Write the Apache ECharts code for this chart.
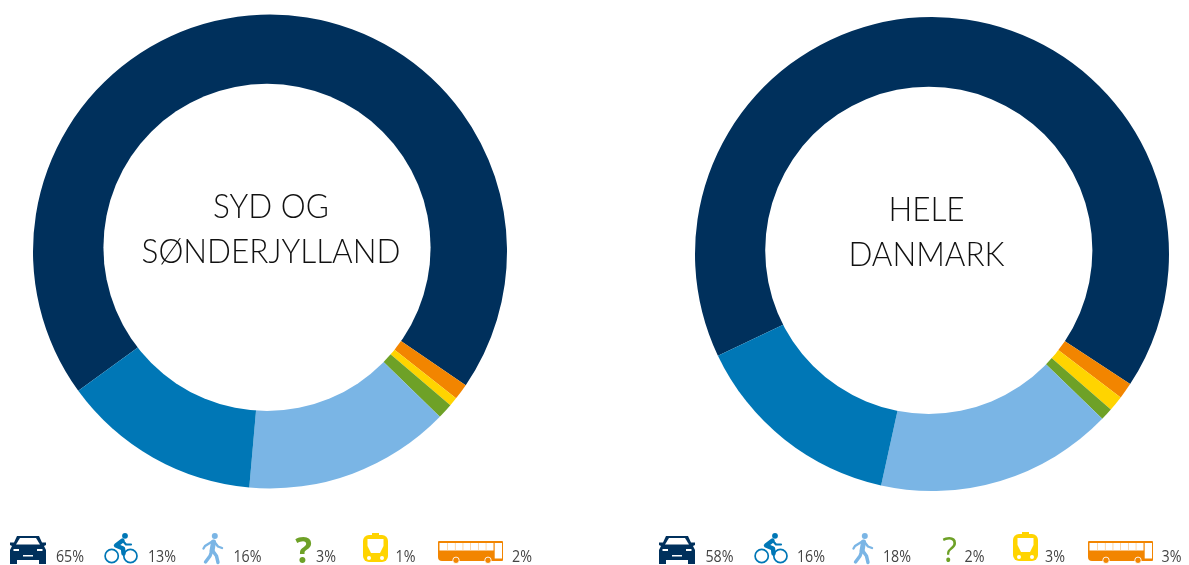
<!DOCTYPE html>
<html>
<head>
<meta charset="utf-8">
<title>Transportmiddel</title>
<script src="https://cdn.jsdelivr.net/npm/echarts@6/dist/echarts.min.js"></script>
<style>
  html, body { margin: 0; background: #fff; }
  #chart { width: 1189px; height: 565px; }
</style>
</head>
<body>
<div id="chart"></div>
<script>
const modes = ['Bil', 'Bus', 'Tog', 'Andet', 'Gang', 'Cykel']

// slice shares as drawn (the printed labels do not quite follow the arcs)
const sydShares = [69.5, 1.1, 0.6, 1.05, 14.1, 13.6]
const heleShares = [66.3, 1.1, 1.05, 0.85, 16.2, 14.5]

const sydLabels = ['65%', '13%', '16%', '3%', '1%', '2%']
const heleLabels = ['58%', '16%', '18%', '2%', '3%', '3%']

const sydTitle = ['SYD OG', 'SØNDERJYLLAND']
const heleTitle = ['HELE', 'DANMARK']

const NAVY = '#00305c'
const BLUE = '#0077b6'
const LIGHT = '#7ab5e5'
const GREEN = '#6ea127'
const YELLOW = '#ffd400'
const ORANGE = '#f28500'
const sliceColors = [NAVY, ORANGE, YELLOW, GREEN, LIGHT, BLUE]

function pie(name, shares, center, startAngle) {
  return {
    name,
    type: 'pie',
    center,
    radius: [0, 237],
    startAngle,
    silent: true,
    animation: false,
    label: { show: false },
    labelLine: { show: false },
    data: shares.map((value, i) => ({
      name: modes[i],
      value,
      itemStyle: { color: sliceColors[i] },
    })),
  }
}

// the hole sits a little off the centre of the ring in the original
function hole(cx, cy) {
  return {
    type: 'circle',
    z: 10,
    shape: { cx, cy, r: 163.6 },
    style: { fill: '#fff' },
  }
}

function titleText(text, x, y) {
  return {
    type: 'text',
    z: 11,
    x,
    y,
    scaleX: 0.94,
    style: {
      text,
      fill: '#111',
      font: '300 33.5px Lato',
      align: 'center',
      verticalAlign: 'middle',
    },
  }
}

function legendText(text, x) {
  return {
    type: 'text',
    x,
    y: 557.5,
    scaleX: 0.92,
    style: {
      text,
      fill: '#444',
      font: '15.5px "Open Sans"',
      align: 'center',
      verticalAlign: 'middle',
    },
  }
}

function stroke(points, color, width) {
  return {
    type: 'polyline',
    shape: { points },
    style: { stroke: color, lineWidth: width, fill: null, lineCap: 'round', lineJoin: 'round' },
  }
}

function shape(type, s, fill) {
  return { type, shape: s, style: { fill } }
}

function car(x) {
  return {
    type: 'group', x, y: 536,
    children: [
      shape('polygon', { points: [[7, 0], [29, 0], [32, 6.5], [36, 6.5], [36, 9], [34, 10], [36, 14], [36, 28], [29, 28], [29, 24], [7, 24], [7, 28], [0, 28], [0, 14], [2, 10], [0, 9], [0, 6.5], [4, 6.5]] }, NAVY),
      shape('polygon', { points: [[10, 2], [26, 2], [30, 8.5], [6, 8.5]] }, '#fff'),
      shape('rect', { x: 3.5, y: 13, width: 5.5, height: 2 }, '#fff'),
      shape('rect', { x: 27, y: 13, width: 5.5, height: 2 }, '#fff'),
      shape('rect', { x: 13, y: 19, width: 10, height: 1.5 }, '#fff'),
    ],
  }
}

function bike(x) {
  const wheel = (cx) => ({
    type: 'circle',
    shape: { cx, cy: 23, r: 6.6 },
    style: { fill: null, stroke: BLUE, lineWidth: 1.7 },
  })
  return {
    type: 'group', x, y: 533,
    children: [
      wheel(7.7), wheel(26.4),
      shape('circle', { cx: 21, cy: 2.8, r: 2.9 }, BLUE),
      stroke([[18.5, 7.5], [12, 12.5], [19, 15.5], [19.5, 20.5]], BLUE, 4.4),
      stroke([[18.5, 7.5], [22, 11.5], [27, 11.5]], BLUE, 2.2),
    ],
  }
}

function walker(x) {
  return {
    type: 'group', x, y: 533,
    children: [
      shape('circle', { cx: 12.8, cy: 3, r: 3 }, LIGHT),
      stroke([[11.5, 9], [10, 18]], LIGHT, 5),
      stroke([[11, 8], [3, 13], [1.5, 15.5]], LIGHT, 2.4),
      stroke([[12.5, 9], [16, 13.5], [20, 15]], LIGHT, 2.4),
      stroke([[10, 17.5], [8, 23], [3.5, 29]], LIGHT, 3.4),
      stroke([[10.5, 17.5], [14.5, 23], [16, 29.5]], LIGHT, 3.4),
    ],
  }
}

function mark(x, y, weight, size) {
  return {
    type: 'text',
    x,
    y,
    style: {
      text: '?',
      fill: GREEN,
      font: `${weight} ${size}px "Open Sans"`,
      align: 'center',
      verticalAlign: 'middle',
    },
  }
}

function train(x, y) {
  return {
    type: 'group', x, y,
    children: [
      shape('rect', { x: 9, y: 0, width: 7, height: 4 }, YELLOW),
      shape('rect', { x: 0, y: 2, width: 25, height: 27, r: 6 }, YELLOW),
      shape('polygon', { points: [[4.5, 6], [20.5, 6], [20.5, 13], [17, 20], [8, 20], [4.5, 13]] }, '#fff'),
      shape('circle', { cx: 6, cy: 25, r: 2 }, '#fff'),
      shape('circle', { cx: 19, cy: 25, r: 2 }, '#fff'),
    ],
  }
}

function bus(x) {
  const bars = [1, 2, 3, 4, 5, 6].map((i) => shape('rect', { x: 1.5 + i * 7.7, y: 2, width: 0.7, height: 7.5 }, '#f8c78a'))
  const wheel = (cx) => ({
    type: 'circle',
    shape: { cx, cy: 19.3, r: 3.2 },
    style: { fill: ORANGE, stroke: '#fff', lineWidth: 0.9 },
  })
  return {
    type: 'group', x, y: 541,
    children: [
      shape('rect', { x: 0, y: 0, width: 65, height: 20, r: [1, 1, 1, 4] }, ORANGE),
      shape('rect', { x: 1.5, y: 2, width: 54, height: 7.5 }, '#fff'),
      ...bars,
      shape('rect', { x: 56.7, y: 2, width: 7.3, height: 15.5 }, '#fff'),
      wheel(18), wheel(50),
    ],
  }
}

const graphics = [
  hole(267, 247.4),
  hole(928.8, 250.3),
  ...sydTitle.map((t, i) => titleText(t, 271, 207 + i * 45)),
  ...heleTitle.map((t, i) => titleText(t, 926.5, 210 + i * 45)),

  car(10), bike(104), walker(202), mark(303.5, 553, 700, 35), train(363, 533), bus(438),
  ...[70, 162, 247.5, 326, 405.5, 522].map((x, i) => legendText(sydLabels[i], x)),

  car(659), bike(754), walker(852), mark(949.5, 552.5, 400, 34), train(1013, 532), bus(1088),
  ...[719.5, 811, 897, 974.5, 1055, 1171.5].map((x, i) => legendText(heleLabels[i], x)),
]

const chart = echarts.init(document.getElementById('chart'))
chart.setOption({
  animation: false,
  backgroundColor: '#fff',
  series: [
    pie('Syd og Sønderjylland', sydShares, [270, 251.5], 216),
    pie('Hele Danmark', heleShares, [932, 254], 205.4),
  ],
  graphic: { elements: graphics },
})
</script>
</body>
</html>
